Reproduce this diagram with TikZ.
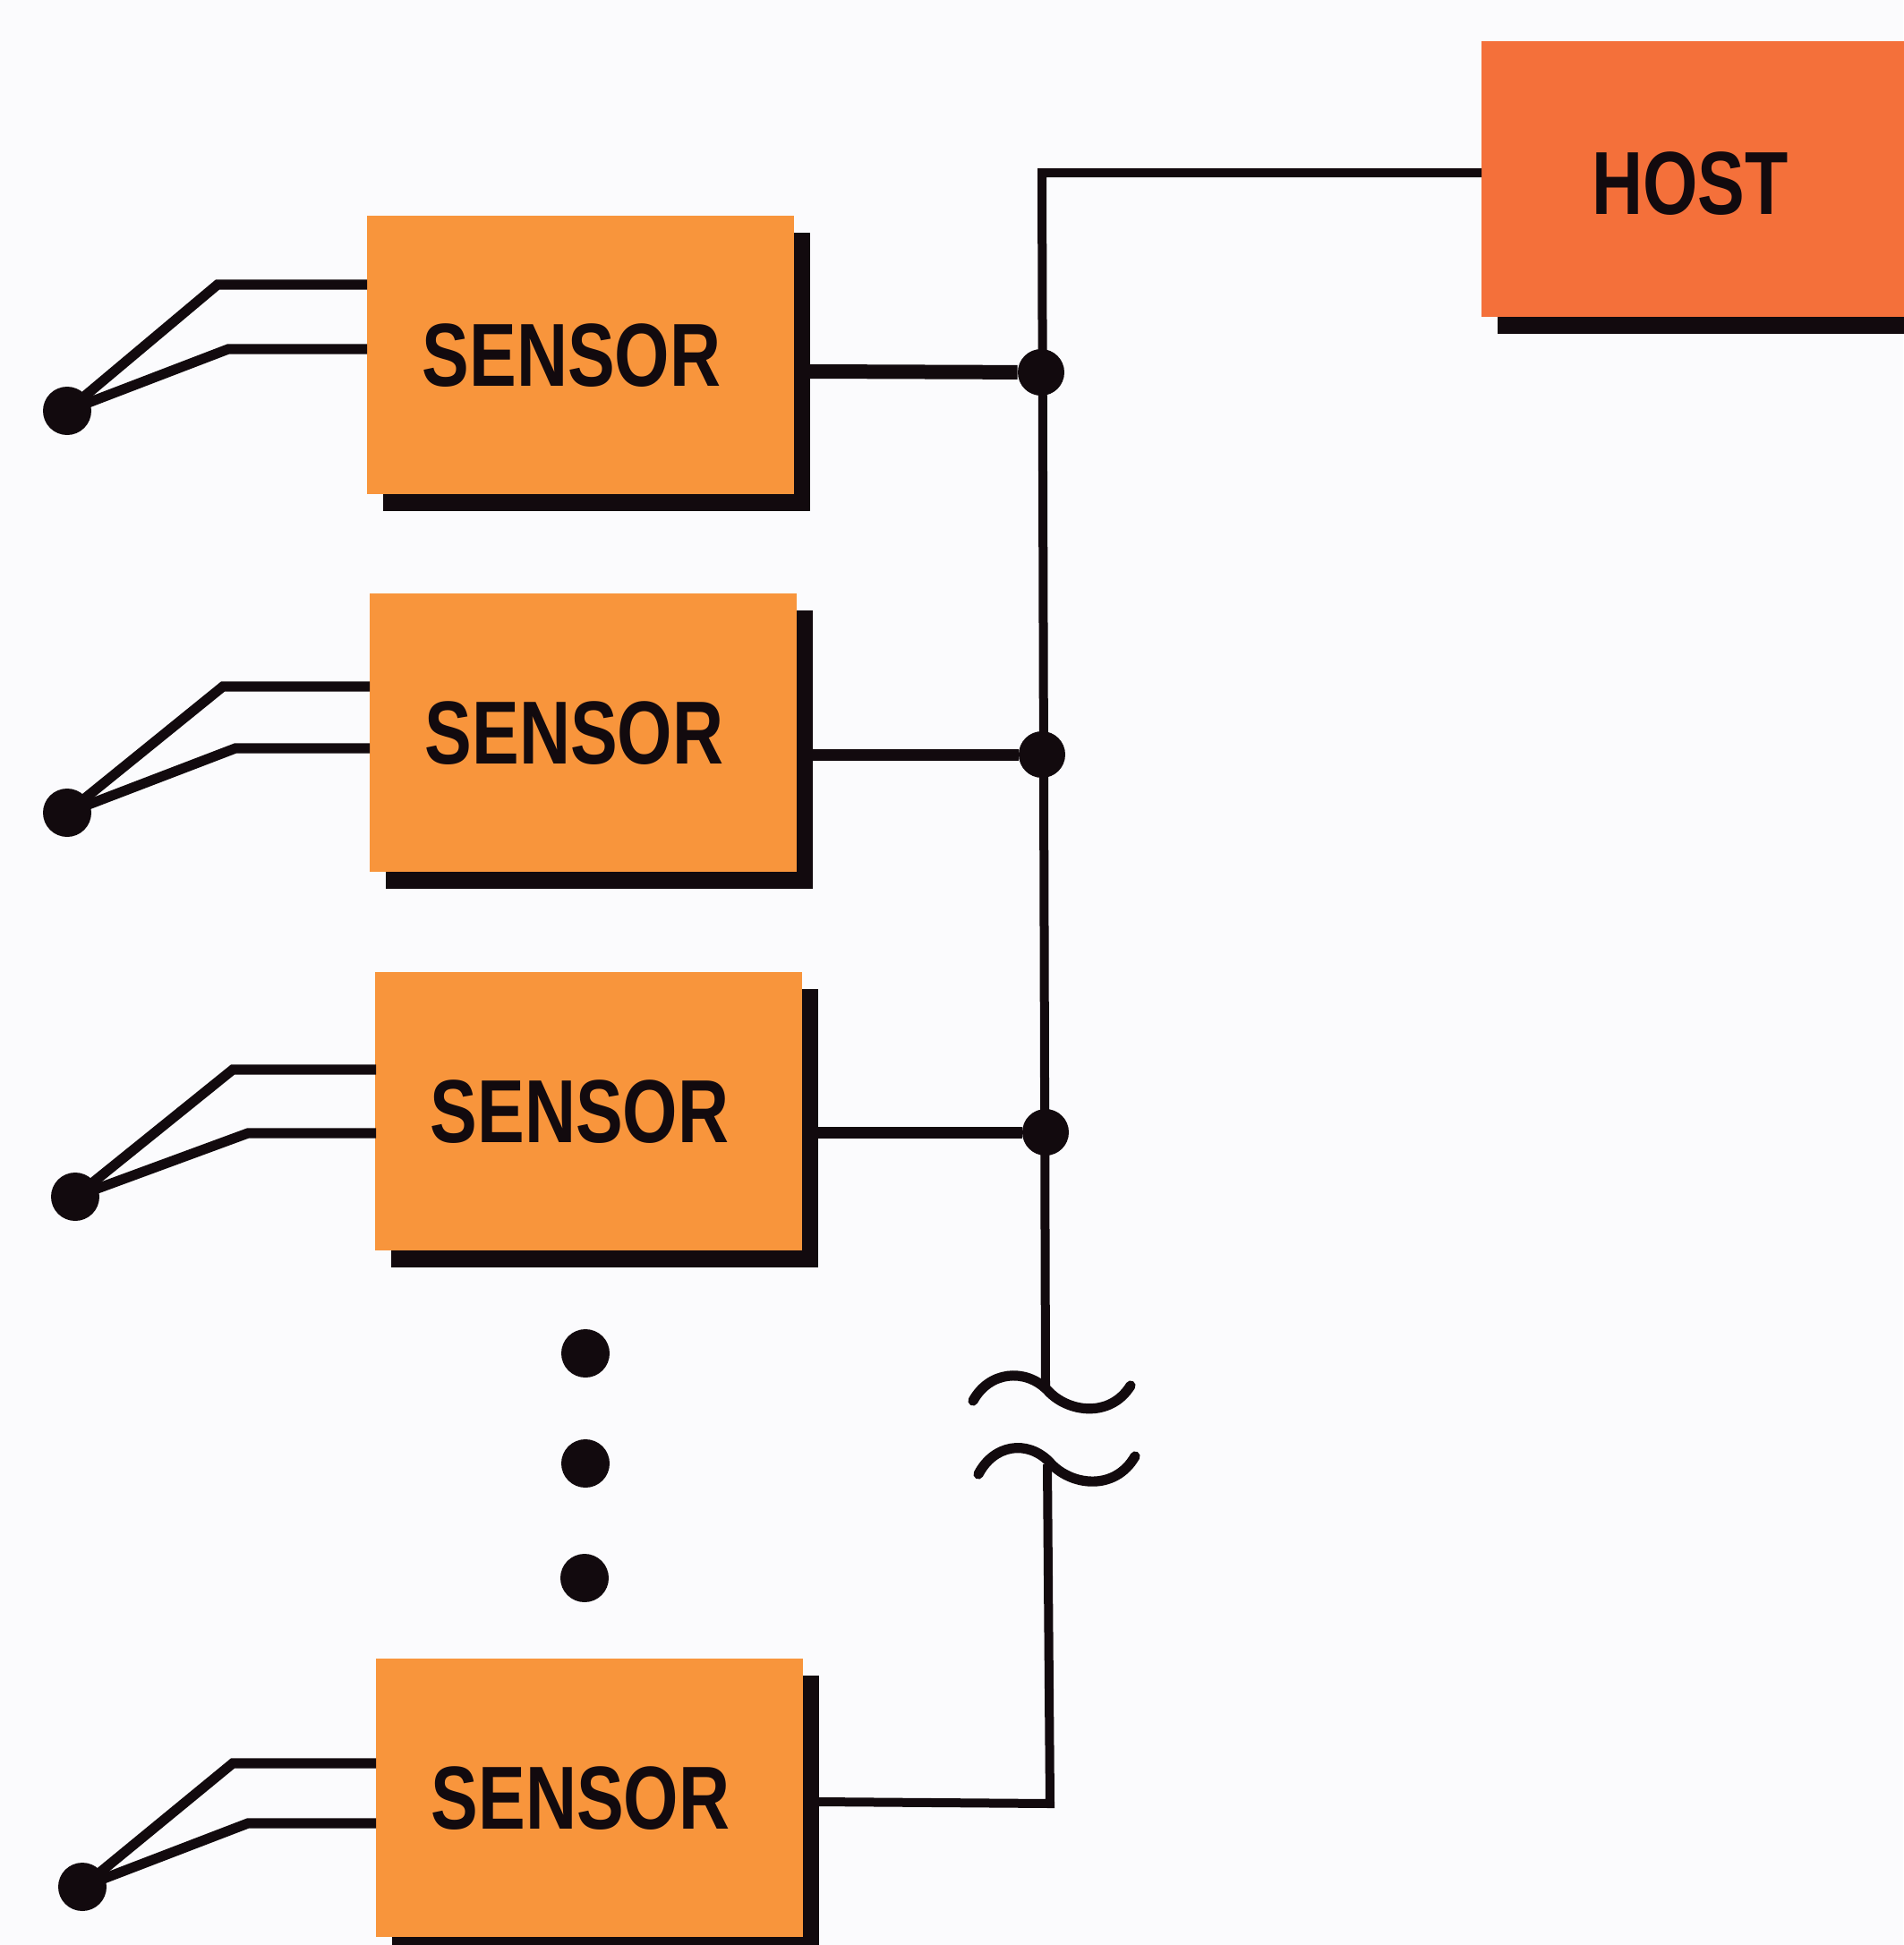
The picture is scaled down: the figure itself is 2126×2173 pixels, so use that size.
\documentclass[tikz,border=0pt]{standalone}
\usepackage{graphicx}
\usepackage{fontspec}
\setmainfont{Liberation Sans}
\usetikzlibrary{shadows}
\definecolor{paper}{HTML}{FBFBFD}
\definecolor{sensorfill}{HTML}{F8953C}
\definecolor{hostfill}{HTML}{F4703A}
\definecolor{ink}{HTML}{120A0E}
\tikzset{
  unitbox/.style={rectangle, inner sep=0pt, draw=none, text=ink, font=\fontsize{50}{50}\selectfont\bfseries,
    drop shadow={shadow xshift=9pt, shadow yshift=-9.5pt, fill=ink, opacity=1}},
  sensorbox/.style={unitbox, fill=sensorfill, minimum width=238.5pt, minimum height=155.5pt},
  hostbox/.style={unitbox, fill=hostfill, minimum width=237.5pt, minimum height=154pt},
  junction/.style={circle, fill=ink, inner sep=0pt, minimum size=26pt},
  probe/.style={circle, fill=ink, inner sep=0pt, minimum size=27pt},
  gapdot/.style={circle, fill=ink, inner sep=0pt, minimum size=27pt},
  bus/.style={draw=ink, line width=5pt},
  stub/.style={draw=ink, line width=6.5pt},
  thickstub/.style={draw=ink, line width=8pt},
  wire/.style={draw=ink, line width=5.6pt, line join=miter},
  breakmark/.style={draw=ink, line width=5.6pt, line cap=round}
}
\newcommand{\sensorlabel}{\raisebox{-.6pt}[\height][\depth]{\scalebox{.79}[1]{SENSOR}}\kern10pt}
\begin{document}
\begin{tikzpicture}[x=.5pt,y=-.5pt]
\useasboundingbox (0,0) rectangle (2126,2173);
\fill[paper] (0,0) rectangle (2126,2173);

% units
\node[hostbox] (host) at (1892,200) {\raisebox{-2.5pt}[\height][\depth]{\scalebox{.79}[1]{HOST}}\kern4pt};
\node[sensorbox] (s1) at (648.5,396) {\sensorlabel};
\node[sensorbox] (s2) at (651.5,818) {\sensorlabel};
\node[sensorbox] (s3) at (657.5,1241) {\sensorlabel};
\node[sensorbox] (s4) at (658.5,2008) {\sensorlabel};

% bus coordinates
\coordinate (hostport) at (1655,193);
\coordinate (bustop) at (1164,193);
\coordinate (gapup) at (1168,1548);
\coordinate (gaplow) at (1170,1636);
\coordinate (busend) at (1173,2015);
\coordinate (o1) at (905,415);
\coordinate (o2) at (906,843);
\coordinate (o3) at (912,1265);
\coordinate (o4) at (915,2013);

\node[junction] (j1) at (1163,416) {};
\node[junction] (j2) at (1164,843) {};
\node[junction] (j3) at (1168,1265) {};

\draw[bus, line join=miter] (hostport) -- (bustop) -- (gapup);
\draw[bus, line join=miter] (o4) -- (busend) -- (gaplow);
\draw[thickstub] (o1) -- (j1);
\draw[stub] (o2) -- (j2);
\draw[stub] (o3) -- (j3);

% break mark
\coordinate (bk1a) at (1087,1565); \coordinate (bk1b) at (1170,1553); \coordinate (bk1c) at (1263,1548);
\coordinate (bk2a) at (1093,1647); \coordinate (bk2b) at (1172,1633); \coordinate (bk2c) at (1268,1627);
\draw[breakmark] (bk1a) .. controls (1105,1532) and (1145,1528) .. (bk1b) .. controls (1192,1578) and (1240,1585) .. (bk1c);
\draw[breakmark] (bk2a) .. controls (1110,1614) and (1147,1608) .. (bk2b) .. controls (1195,1660) and (1245,1667) .. (bk2c);

% sensor probes
\node[probe] (p1) at (75,459) {};
\coordinate (u1) at (243,318); \coordinate (l1) at (255,390);
\coordinate (ua1) at (410,318); \coordinate (la1) at (410,390);
\draw[wire] (p1.center) -- (u1) -- (ua1);
\draw[wire] (p1.center) -- (l1) -- (la1);

\node[probe] (p2) at (75,908) {};
\coordinate (u2) at (249,767); \coordinate (l2) at (263,836);
\coordinate (ua2) at (413,767); \coordinate (la2) at (413,836);
\draw[wire] (p2.center) -- (u2) -- (ua2);
\draw[wire] (p2.center) -- (l2) -- (la2);

\node[probe] (p3) at (84,1337) {};
\coordinate (u3) at (260,1195); \coordinate (l3) at (277,1266);
\coordinate (ua3) at (420,1195); \coordinate (la3) at (420,1266);
\draw[wire] (p3.center) -- (u3) -- (ua3);
\draw[wire] (p3.center) -- (l3) -- (la3);

\node[probe] (p4) at (92,2108) {};
\coordinate (u4) at (260,1970); \coordinate (l4) at (277,2037);
\coordinate (ua4) at (420,1970); \coordinate (la4) at (420,2037);
\draw[wire] (p4.center) -- (u4) -- (ua4);
\draw[wire] (p4.center) -- (l4) -- (la4);

% ellipsis dots
\node[gapdot] (d1) at (654,1512) {};
\node[gapdot] (d2) at (654,1635) {};
\node[gapdot] (d3) at (653,1763) {};
\end{tikzpicture}
\end{document}
